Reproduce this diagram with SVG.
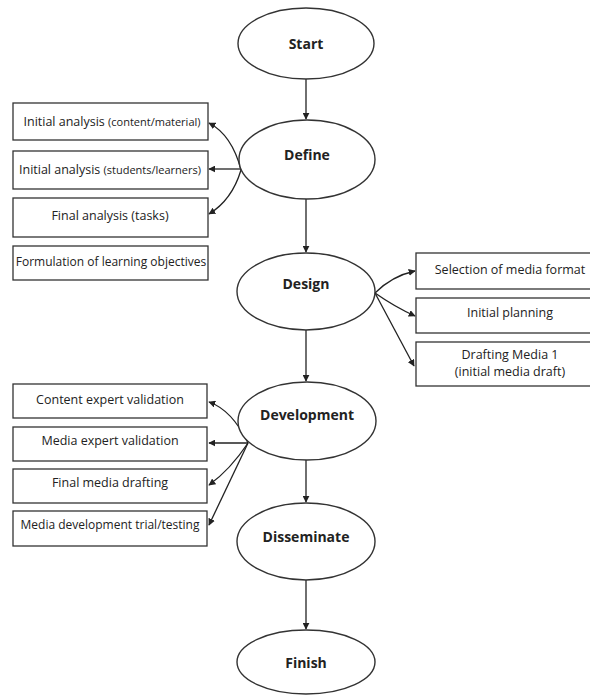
<svg xmlns="http://www.w3.org/2000/svg" width="590" height="695" viewBox="0 0 590 695">
<defs>
<marker id="ah" viewBox="0 0 10 10" refX="9" refY="5" markerWidth="7" markerHeight="7" markerUnits="userSpaceOnUse" orient="auto">
<path d="M0,0 L10,5 L0,10 z" fill="#222"/>
</marker>
<style>
.el{fill:#fff;stroke:#333;stroke-width:1.4}
.bx{fill:#fff;stroke:#333;stroke-width:1.3}
.et{font-family:"Open Sans","DejaVu Sans",sans-serif;font-weight:bold;font-size:14px;fill:#222;text-anchor:middle}
.bt{font-family:"Open Sans","DejaVu Sans",sans-serif;font-size:12.5px;fill:#222;text-anchor:middle}
.sm{font-size:11px}
.cn{fill:none;stroke:#222;stroke-width:1.3;marker-end:url(#ah)}
</style>
</defs>
<rect width="590" height="695" fill="#fff"/>
<g id="connectors">
<path class="cn" d="M306,79 L306,119"/>
<path class="cn" d="M306,199 L306,252"/>
<path class="cn" d="M306,330 L306,381"/>
<path class="cn" d="M306,460 L306,502"/>
<path class="cn" d="M306,580 L306,629"/>
<path class="cn" d="M241,170 Q232,135 209,123"/>
<path class="cn" d="M241,169 L209,169"/>
<path class="cn" d="M241,170 Q232,200 209,214"/>
<path class="cn" d="M375,293 Q392,276 415,271"/>
<path class="cn" d="M375,293 Q395,307 415,316"/>
<path class="cn" d="M375,293 L414,366"/>
<path class="cn" d="M248,443 Q232,410 209,402"/>
<path class="cn" d="M248,443 L209,443"/>
<path class="cn" d="M248,443 Q230,470 209,485"/>
<path class="cn" d="M248,443 L209,525"/>
</g>
<g id="start"><ellipse class="el" cx="306" cy="43.5" rx="68" ry="35.5"/><text class="et" x="306" y="49">Start</text></g>
<g id="define"><ellipse class="el" cx="307" cy="159.5" rx="68" ry="39.5"/><text class="et" x="307" y="160">Define</text></g>
<g id="design"><ellipse class="el" cx="306" cy="291.5" rx="69" ry="38.5"/><text class="et" x="306" y="289">Design</text></g>
<g id="development"><ellipse class="el" cx="307" cy="421" rx="69" ry="39"/><text class="et" x="307" y="420">Development</text></g>
<g id="disseminate"><ellipse class="el" cx="306" cy="541.5" rx="69" ry="38.5"/><text class="et" x="306" y="542">Disseminate</text></g>
<g id="finish"><ellipse class="el" cx="306" cy="662" rx="69" ry="32"/><text class="et" x="306" y="668">Finish</text></g>

<g id="d1"><rect class="bx" x="13" y="103" width="195" height="37"/><text class="bt" x="112" y="126">Initial analysis <tspan class="sm">(content/material)</tspan></text></g>
<g id="d2"><rect class="bx" x="13" y="151" width="195" height="38"/><text class="bt" x="110" y="174">Initial analysis <tspan class="sm">(students/learners)</tspan></text></g>
<g id="d3"><rect class="bx" x="13" y="198" width="195" height="39"/><text class="bt" x="110" y="220">Final analysis (tasks)</text></g>
<g id="d4"><rect class="bx" x="13" y="246" width="195" height="34"/><text class="bt" x="111" y="266" style="font-size:12px">Formulation of learning objectives</text></g>

<g id="s1"><rect class="bx" x="416" y="253" width="182" height="36"/><text class="bt" x="510" y="274">Selection of media format</text></g>
<g id="s2"><rect class="bx" x="416" y="298" width="182" height="35"/><text class="bt" x="510" y="317">Initial planning</text></g>
<g id="s3"><rect class="bx" x="416" y="342" width="182" height="44"/><text class="bt" x="510" y="359">Drafting Media 1</text><text class="bt" x="510" y="376">(initial media draft)</text></g>

<g id="v1"><rect class="bx" x="13" y="384" width="194" height="34"/><text class="bt" x="110" y="404">Content expert validation</text></g>
<g id="v2"><rect class="bx" x="13" y="427" width="194" height="34"/><text class="bt" x="110" y="445">Media expert validation</text></g>
<g id="v3"><rect class="bx" x="13" y="469" width="194" height="34"/><text class="bt" x="110" y="487">Final media drafting</text></g>
<g id="v4"><rect class="bx" x="13" y="511" width="194" height="35"/><text class="bt" x="110" y="529" style="font-size:12px">Media development trial/testing</text></g>
</svg>
